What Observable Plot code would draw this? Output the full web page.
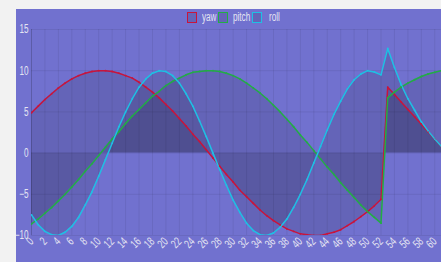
<!DOCTYPE html>
<html><head><meta charset="utf-8">
<script src="https://cdn.jsdelivr.net/npm/d3@7"></script>
<script src="https://cdn.jsdelivr.net/npm/@observablehq/plot@0.6"></script>
<style>
body{margin:0;background:#f2f2f2;}
#wrap{position:absolute;left:16px;top:9px;width:425px;height:253px;background:#7171cf;overflow:hidden;font-family:"Liberation Sans",Arial,sans-serif;}
#legend{position:absolute;top:0;left:0;width:425px;height:20px;font-size:12px;color:#e4e4f2;}
#legend .box{position:absolute;top:3px;width:8px;height:9px;border:1.5px solid;background:rgba(0,0,0,0.11);}
#legend .lab{position:absolute;top:2px;line-height:13px;transform:scaleX(0.68);transform-origin:0 50%;white-space:nowrap;}
#chart{position:absolute;left:0;top:0;}
</style>
</head><body>
<div id="wrap"><div id="chart"></div><div id="legend"></div></div>
<script>
const steps = [0,1,2,3,4,5,6,7,8,9,10,11,12,13,14,15,16,17,18,19,20,21,22,23,24,25,26,27,28,29,30,31,32,33,34,35,36,37,38,39,40,41,42,43,44,45,46,47,48,49,50,51,52,53,54,55,56,57,58,59,60,61];
const yaw = [4.9,5.7,6.5,7.2,7.9,8.5,9.0,9.4,9.7,9.9,10.0,10.0,9.9,9.7,9.4,9.1,8.6,8.0,7.4,6.7,5.9,5.1,4.2,3.3,2.3,1.4,0.4,-0.6,-1.6,-2.6,-3.5,-4.5,-5.3,-6.1,-6.9,-7.6,-8.2,-8.7,-9.2,-9.5,-9.8,-9.9,-10.0,-10.0,-9.8,-9.6,-9.3,-8.8,-8.3,-7.7,-7.1,-6.4,-5.6,8.0,7.1,6.2,5.3,4.4,3.5,2.6,1.7,0.8];
const pitch = [-8.6,-8.0,-7.3,-6.6,-5.8,-5.0,-4.1,-3.2,-2.2,-1.3,-0.3,0.7,1.7,2.6,3.6,4.5,5.3,6.1,6.9,7.5,8.2,8.7,9.1,9.5,9.8,9.9,10.0,10.0,9.9,9.7,9.4,9.0,8.5,7.9,7.3,6.6,5.8,5.0,4.1,3.2,2.2,1.3,0.3,-0.7,-1.7,-2.6,-3.6,-4.5,-5.4,-6.3,-7.1,-7.8,-8.5,6.7,7.4,8.0,8.5,8.9,9.3,9.6,9.8,10.0];
const roll = [-7.5,-8.7,-9.5,-9.9,-10.0,-9.6,-8.9,-7.8,-6.3,-4.7,-2.8,-0.8,1.2,3.2,5.0,6.6,8.0,9.0,9.7,10.0,9.9,9.4,8.5,7.2,5.7,3.9,2.0,0.0,-2.0,-3.9,-5.7,-7.2,-8.5,-9.4,-9.9,-10.0,-9.7,-9.0,-8.0,-6.6,-5.0,-3.2,-1.2,0.8,2.8,4.7,6.3,7.8,8.9,9.6,10.0,9.85,9.5,12.7,10.4,8.3,6.6,5.2,3.8,2.7,1.7,0.8];
const seriesNames = ["yaw","pitch","roll"];
const seriesColors = ["#c8143c","#22ad45","#1ec0e4"];
const yTicks = [-10,-5,0,5,10,15];
const xTicks = [0,2,4,6,8,10,12,14,16,18,20,22,24,26,28,30,32,34,36,38,40,42,44,46,48,50,52,54,56,58,60];

const values = {yaw, pitch, roll};
const data = seriesNames.flatMap(s => steps.map((x,i) => ({x, y: values[s][i], s})));
const color = {domain: seriesNames, range: seriesColors};

const plot = Plot.plot({
  width: 425, height: 253,
  marginTop: 20, marginBottom: 27, marginLeft: 15, marginRight: 0,
  style: {background: "transparent", fontFamily: '"Liberation Sans",Arial,sans-serif', fontSize: "12px", color: "#e4e4f2"},
  x: {domain: [0, 61], ticks: xTicks, label: null},
  y: {domain: [-10, 15], ticks: yTicks, label: null},
  color,
  marks: [
    Plot.gridX(xTicks, {stroke: "#000", strokeOpacity: 0.07}),
    Plot.gridY(yTicks, {stroke: "#000", strokeOpacity: 0.07}),
    Plot.areaY(data, {x: "x", y1: 0, y2: "y", z: "s", fill: "#000", fillOpacity: 0.11, clip: true}),
    Plot.ruleX([0], {stroke: "#000", strokeOpacity: 0.12}),
    Plot.lineY(data, {x: "x", y: "y", z: "s", stroke: "s", strokeWidth: 1.5, clip: true}),
    Plot.dot(data, {x: "x", y: "y", fill: "s", r: 0.9, clip: true}),
    Plot.axisY(yTicks, {tickSize: 0, tickPadding: 3, fontSize: 12, fill: "#e4e4f2", label: null}),
    Plot.axisX(xTicks, {tickSize: 0, tickPadding: 4, tickRotate: -45, fontSize: 12, fill: "#e4e4f2", label: null})
  ]
});
document.getElementById("chart").appendChild(plot);
plot.querySelectorAll("text").forEach(t => {
  const len = t.getComputedTextLength();
  if (len > 0) { t.setAttribute("textLength", len * 0.68); t.setAttribute("lengthAdjust", "spacingAndGlyphs"); }
});

const leg = document.getElementById("legend");
const boxX = [171, 202, 236];
const labX = [186, 217, 253];
seriesNames.forEach((n,i) => {
  const b = document.createElement("span"); b.className = "box"; b.style.borderColor = seriesColors[i]; b.style.left = boxX[i] + "px";
  const t = document.createElement("span"); t.className = "lab"; t.textContent = n; t.style.left = labX[i] + "px";
  leg.appendChild(b); leg.appendChild(t);
});
</script>
</body></html>
